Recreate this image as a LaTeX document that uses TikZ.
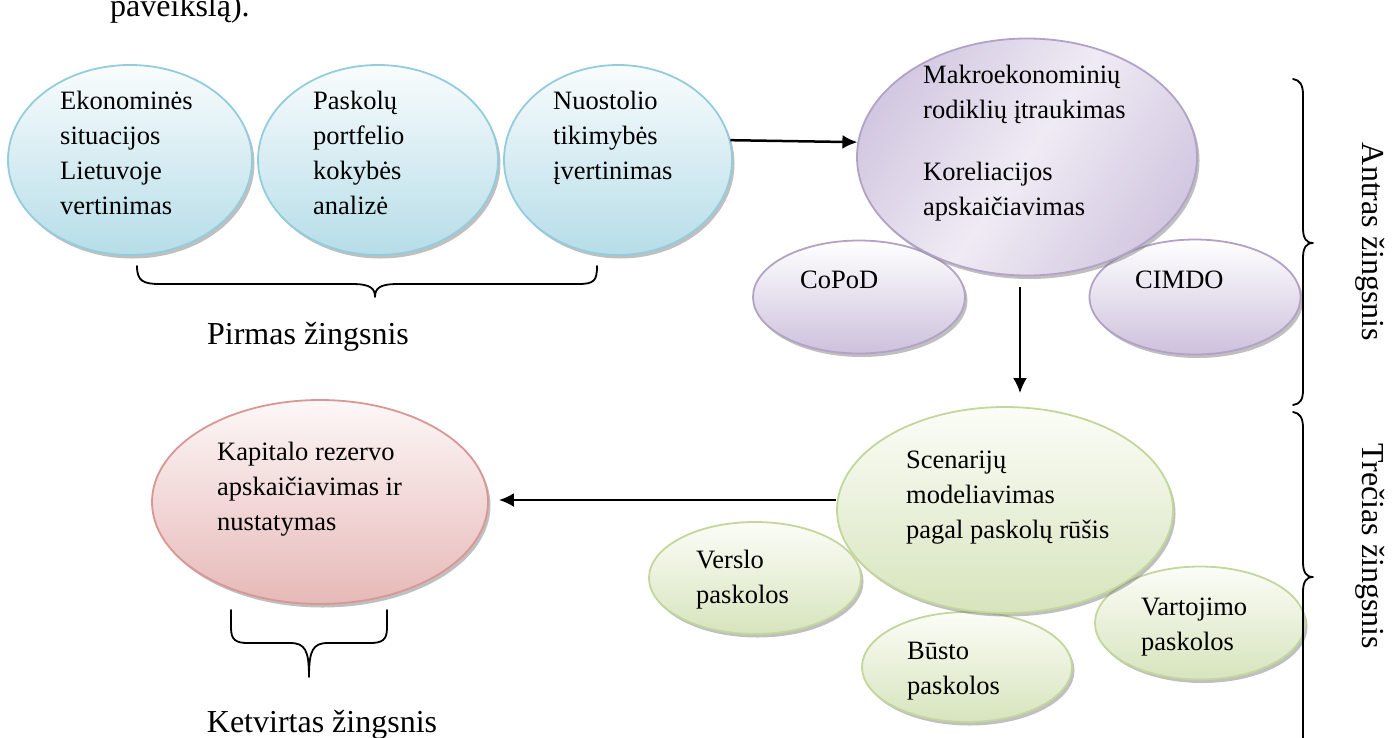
\documentclass[tikz,border=0pt]{standalone}
\usepackage{fontspec}
\setmainfont{Liberation Serif}
\usetikzlibrary{shapes.geometric,shadows,arrows.meta}
\definecolor{bluebd}{HTML}{93CDDD}
\definecolor{bluetop}{HTML}{F9FCFD}
\definecolor{bluebot}{HTML}{B6DDE8}
\definecolor{purbd}{HTML}{B3A2C7}
\definecolor{purlight}{HTML}{EFEBF4}
\definecolor{purdark}{HTML}{D3C8E1}
\definecolor{pursmall}{HTML}{CDC1DC}
\definecolor{greenbd}{HTML}{C3D69B}
\definecolor{greentop}{HTML}{FBFDF7}
\definecolor{greenbot}{HTML}{D7E4BD}
\definecolor{redbd}{HTML}{D99694}
\definecolor{redtop}{HTML}{FDF7F7}
\definecolor{redbot}{HTML}{E6B9B8}
\newcommand{\mylines}[1]{\begin{tabular}[t]{@{}l@{}}#1\end{tabular}}
\begin{document}
\begin{tikzpicture}[x=1pt,y=-1pt,
  ell/.style={ellipse, inner sep=0pt, line width=1.8pt,
    drop shadow={shadow xshift=2.5pt, shadow yshift=-3.5pt, fill=black!50, opacity=0.5}},
  blueell/.style={ell, draw=bluebd, top color=bluetop, bottom color=bluebot},
  purbig/.style={ell, draw=purbd, left color=purdark, right color=purdark, middle color=purlight, shading angle=55},
  purell/.style={ell, draw=purbd, top color=white, bottom color=pursmall},
  greenell/.style={ell, draw=greenbd, top color=greentop, bottom color=greenbot},
  redell/.style={ell, draw=redbd, top color=redtop, bottom color=redbot},
  txt/.style={anchor=base west, inner sep=0pt, font=\fontsize{26.5}{35}\selectfont},
  lbl/.style={inner sep=0pt, font=\fontsize{32}{38}\selectfont},
  arr/.style={line width=2.5pt, -{Latex[length=15pt,width=14pt]}},
  bracestyle/.style={line width=1.8pt, line cap=round, line join=round}
]
\useasboundingbox (0,0) rectangle (1400,737);
\clip (0,0) rectangle (1400,737);

% top cut-off text
\node[lbl, anchor=base west] (top) at (110,16) {paveikslą).};

% first step
\node[blueell, minimum width=244pt, minimum height=190pt] (A) at (130,160) {};
\node[blueell, minimum width=240pt, minimum height=190pt] (B) at (378,160) {};
\node[blueell, minimum width=228pt, minimum height=190pt] (C) at (618,160) {};
\node[txt] (tA) at (60,109) {\mylines{Ekonominės\\situacijos\\Lietuvoje\\vertinimas}};
\node[txt] (tB) at (313,109) {\mylines{Paskolų\\portfelio\\kokybės\\analizė}};
\node[txt] (tC) at (553,109) {\mylines{Nuostolio\\tikimybės\\įvertinimas}};
\draw[bracestyle] (137,266) .. controls (137,281) and (143,284) .. (160,284) -- (352,284)
  .. controls (370,284) and (375,288) .. (375,297)
  .. controls (375,288) and (380,284) .. (398,284) -- (578,284)
  .. controls (594,284) and (597,281) .. (597,266);
\node[lbl, anchor=base] (L1) at (308,344) {Pirmas žingsnis};

% second step
\node[purell, minimum width=212pt, minimum height=113pt] (CoPoD) at (859,297) {};
\node[purell, minimum width=211pt, minimum height=115pt] (CIMDO) at (1195,297) {};
\node[purbig, minimum width=340pt, minimum height=237pt] (P) at (1027,157) {};
\node[txt] (tP) at (923,83) {\mylines{Makroekonominių\\rodiklių įtraukimas\\[27pt]Koreliacijos\\apskaičiavimas}};
\node[txt] (tCoPoD) at (800,288) {CoPoD};
\node[txt] (tCIMDO) at (1135,288) {CIMDO};
\draw[bracestyle] (1293,79) .. controls (1300,80) and (1303,85) .. (1303,95) -- (1303,228)
  .. controls (1303,238) and (1306,243) .. (1313,243)
  .. controls (1306,243) and (1303,248) .. (1303,258) -- (1303,390)
  .. controls (1303,400) and (1300,404) .. (1293,405);
\node[lbl, rotate=-90] (L2) at (1370,242) {Antras žingsnis};

% third step
\node[greenell, minimum width=212pt, minimum height=112pt] (Verslo) at (755,578) {};
\node[greenell, minimum width=210pt, minimum height=110pt] (Busto) at (967,667) {};
\node[greenell, minimum width=210pt, minimum height=113pt] (Vart) at (1200,623) {};
\node[greenell, minimum width=336pt, minimum height=206pt] (G) at (1005,510) {};
\node[txt] (tG) at (906,468) {\mylines{Scenarijų\\modeliavimas\\pagal paskolų rūšis}};
\node[txt] (tVerslo) at (696,568) {\mylines{Verslo\\paskolos}};
\node[txt] (tBusto) at (907,659) {\mylines{Būsto\\paskolos}};
\node[txt] (tVart) at (1141,615) {\mylines{Vartojimo\\paskolos}};
\draw[bracestyle] (1293,412) .. controls (1300,413) and (1303,418) .. (1303,428) -- (1303,562)
  .. controls (1303,572) and (1306,577) .. (1313,577)
  .. controls (1306,577) and (1303,582) .. (1303,592) -- (1303,750);
\node[lbl, rotate=-90] (L3) at (1370,546) {Trečias žingsnis};

% fourth step
\node[redell, minimum width=336pt, minimum height=204pt] (R) at (320,502) {};
\node[txt] (tR) at (217,460) {\mylines{Kapitalo rezervo\\apskaičiavimas ir\\nustatymas}};
\draw[bracestyle] (231,610) -- (231,628) .. controls (231,640) and (236,643) .. (248,643) -- (290,643)
  .. controls (305,643) and (309,650) .. (309,677)
  .. controls (309,650) and (313,643) .. (328,643) -- (370,643)
  .. controls (382,643) and (387,640) .. (387,628) -- (387,610);
\node[lbl, anchor=base] (L4) at (322,732) {Ketvirtas žingsnis};

% connectors
\draw[arr] (C.10) -- (P.175);
\draw[arr] ([shift={(-7,11)}]P.south) -- ([shift={(15,-13)}]G.north);
\draw[arr] ([shift={(0,-10)}]G.west) -- ([shift={(10,-2)}]R.east);
\end{tikzpicture}
\end{document}
